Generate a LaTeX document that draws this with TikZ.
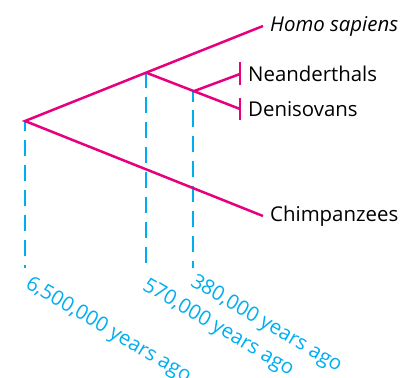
\documentclass[tikz,border=0pt]{standalone}
\usepackage{fontspec}
\setmainfont{Open Sans}
\usetikzlibrary{positioning}
\definecolor{BranchPink}{HTML}{E6007E}
\definecolor{TimeBlue}{HTML}{00AEEF}

\begin{document}
\begin{tikzpicture}[
  x=1pt, y=-1pt,
  font=\fontsize{20.4}{22}\selectfont,
  branch/.style={draw=BranchPink, line width=2.5pt},
  timeline/.style={draw=TimeBlue, line width=2.7pt, dash pattern=on 16.5pt off 8.5pt},
  taxon/.style={anchor=west, inner sep=0pt, text=black},
  agelabel/.style={anchor=north west, rotate=-30.5, inner sep=0pt, text=TimeBlue},
]
\useasboundingbox (0,0) rectangle (409,377);

% tree points
\coordinate (root) at (25,121);
\coordinate (split) at (146,72.6);
\coordinate (archaic) at (193,91.5);
\coordinate (hs) at (263,26);
\coordinate (chimp) at (263,216);
\coordinate (nean) at (240,74);
\coordinate (deni) at (240,109);

% time lines
\coordinate (rootbase) at (25,268);
\coordinate (splitbase) at (146,268);
\coordinate (archaicbase) at (193,268);
\draw[timeline, dash phase=6.5pt] (root) -- (rootbase);
\draw[timeline, dash phase=1pt] (split) -- (splitbase);
\draw[timeline, dash phase=6pt] (archaic) -- (archaicbase);

% branches
\draw[branch] (chimp) -- (root) -- (hs);
\draw[branch] (split) -- (deni);
\draw[branch] (archaic) -- (nean);
\draw[branch] ([yshift=-11.5pt]nean) -- ([yshift=11.5pt]nean);
\draw[branch] ([yshift=-11pt]deni) -- ([yshift=11pt]deni);

% labels
\node[taxon, right=7pt of hs] (hslabel) {\itshape Homo sapiens};
\node[taxon, right=8pt of nean] (neanlabel) {Neanderthals};
\node[taxon, right=8pt of deni] (denilabel) {Denisovans};
\node[taxon, right=7pt of chimp] (chimplabel) {Chimpanzees};

\node[agelabel] at ([xshift=7pt,yshift=-6pt]rootbase) (rootage) {6,500,000 years ago};
\node[agelabel] at ([xshift=3pt,yshift=-8pt]splitbase) (splitage) {570,000 years ago};
\node[agelabel] at ([xshift=4pt,yshift=-4pt]archaicbase) (archaicage) {380,000 years ago};

\end{tikzpicture}
\end{document}
